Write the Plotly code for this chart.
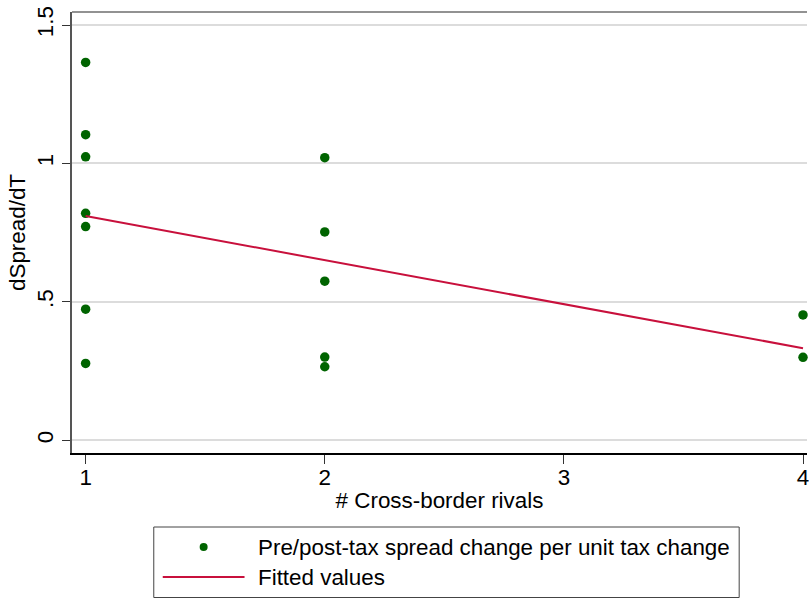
import plotly.graph_objects as go

# Data
rivals = [1, 1, 1, 1, 1, 1, 1, 2, 2, 2, 2, 2, 4, 4]
dspread = [1.365, 1.104, 1.024, 0.820, 0.772, 0.474, 0.278,
           1.021, 0.753, 0.575, 0.301, 0.266,
           0.453, 0.300]
fit_x = [1, 4]
fit_y = [0.810, 0.333]

y_ticks = [0, 0.5, 1, 1.5]
y_ticktext = ["0", ".5", "1", "1.5"]
x_ticks = [1, 2, 3, 4]

legend_labels = ["Pre/post-tax spread change per unit tax change", "Fitted values"]

GREEN = "#006400"
RED = "#c8103c"
FONT = "Arial, Liberation Sans, sans-serif"
FS = 22.4

W, H = 809, 599
L, R, T, B = 72, 0, 12, 146
PW, PH = W - L - R, H - T - B


def px(x):
    return (x - L) / PW


def py(y):
    return (H - B - y) / PH


fig = go.Figure()
fig.add_trace(go.Scatter(x=rivals, y=dspread, mode="markers",
                         marker=dict(color=GREEN, size=9.5, line=dict(width=0)),
                         name=legend_labels[0], showlegend=False, cliponaxis=False))
fig.add_trace(go.Scatter(x=fit_x, y=fit_y, mode="lines",
                         line=dict(color=RED, width=2),
                         name=legend_labels[1], showlegend=False))

fig.update_layout(
    width=W, height=H,
    margin=dict(l=L, r=R, t=T, b=B),
    paper_bgcolor="white", plot_bgcolor="white",
    font=dict(family=FONT, size=FS, color="black"),
    showlegend=False,
    xaxis=dict(range=[0.943, 4.0167], tickvals=x_ticks, ticktext=[str(v) for v in x_ticks],
               showgrid=False, zeroline=False, showline=True, linecolor="black", linewidth=2,
               ticks="outside", ticklen=9, tickwidth=1, tickcolor="#333333",
               tickfont=dict(size=FS), ticklabeloverflow="allow", ticklabelstandoff=-6,
               title=dict(text="# Cross-border rivals", font=dict(size=FS), standoff=3)),
    yaxis=dict(range=[-0.0455, 1.547], tickvals=y_ticks, ticktext=y_ticktext,
               showgrid=True, gridcolor="#dcdcdc", gridwidth=1.5, zeroline=False,
               showline=True, linecolor="#555555", linewidth=1.5,
               ticks="outside", ticklen=8, tickwidth=1, tickcolor="#333333",
               tickangle=-90, tickfont=dict(size=FS),
               title=dict(text="dSpread/dT", font=dict(size=FS), standoff=1)),
)

# top frame line of plot region
fig.add_shape(type="line", xref="paper", yref="paper", x0=0, x1=1, y0=1, y1=1,
              line=dict(color="#6e6e6e", width=1.5))

# manual legend (Stata-style box)
fig.add_shape(type="rect", xref="paper", yref="paper",
              x0=px(154), x1=px(741), y0=py(527), y1=py(597.5),
              line=dict(color="#444444", width=1), fillcolor="white")
fig.add_shape(type="circle", xref="paper", yref="paper",
              xsizemode="pixel", ysizemode="pixel",
              xanchor=px(204), yanchor=py(547), x0=-4, x1=4, y0=-4, y1=4,
              fillcolor=GREEN, line=dict(width=0))
fig.add_shape(type="line", xref="paper", yref="paper",
              x0=px(163), x1=px(245), y0=py(577), y1=py(577),
              line=dict(color=RED, width=2))
for lab, yy in zip(legend_labels, [547, 577]):
    fig.add_annotation(xref="paper", yref="paper", x=px(257), y=py(yy),
                       text=lab, showarrow=False, xanchor="left", yanchor="middle",
                       font=dict(size=FS, family=FONT, color="black"))

fig.write_html("out.html", config={"displayModeBar": False},
               post_script="document.body.style.margin='0';document.body.style.overflow='hidden';")
